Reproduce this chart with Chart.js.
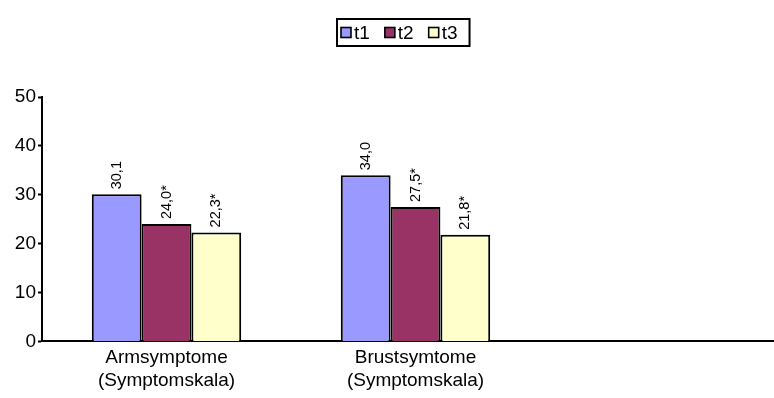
<!DOCTYPE html>
<html><head><meta charset="utf-8">
<script src="https://cdn.jsdelivr.net/npm/chart.js@4/dist/chart.umd.min.js"></script>
<style>html,body{margin:0;padding:0;background:#fff;overflow:hidden}#wrap{width:800px;height:398px}</style>
</head><body><div id="wrap"><canvas id="c" width="800" height="398"></canvas></div>
<script>
const categories = [["Armsymptome","(Symptomskala)"],["Brustsymtome","(Symptomskala)"],""];
const seriesNames = ["t1","t2","t3"];
const t1 = [30.1, 34.0, null];
const t2 = [24.0, 27.5, null];
const t3 = [22.3, 21.8, null];
const t1Labels = ["30,1","34,0",""];
const t2Labels = ["24,0*","27,5*",""];
const t3Labels = ["22,3*","21,8*",""];
const yTicks = [0,10,20,30,40,50];

const colors = ["#9999FF","#993366","#FFFFCC"];
const labelSets = [t1Labels,t2Labels,t3Labels];
const FONT = 'Arial, "Liberation Sans", sans-serif';

const boxedLegend = {
  id:'boxedLegend',
  afterDraw(chart){
    const ctx = chart.ctx; ctx.save();
    ctx.font = '19px ' + FONT; ctx.textBaseline='middle'; ctx.textAlign='left';
    const sq = 10, gapTxt = 3, gapItem = 15, padL = 4, padR = 12;
    const items = chart.data.datasets.map(ds=>({t:ds.label, c:ds.backgroundColor, w:ctx.measureText(ds.label).width}));
    let total = padL + padR;
    items.forEach((it,i)=>{ total += sq + gapTxt + it.w + (i<items.length-1?gapItem:0); });
    const x0 = 337, y0 = 19, h = 27, cy = y0 + h/2;
    ctx.lineWidth = 2; ctx.strokeStyle = '#000';
    ctx.strokeRect(x0, y0, total, h);
    let x = x0 + padL;
    items.forEach(it=>{
      ctx.fillStyle = it.c; ctx.fillRect(x, cy - sq/2, sq, sq);
      ctx.lineWidth = 1.6; ctx.strokeRect(x, cy - sq/2, sq, sq);
      x += sq + gapTxt;
      ctx.fillStyle = '#000'; ctx.fillText(it.t, x, cy + 1);
      x += it.w + gapItem;
    });
    ctx.restore();
  }
};
const valueLabels = {
  id:'valueLabels',
  afterDatasetsDraw(chart){
    const ctx = chart.ctx; ctx.save();
    ctx.font = '14.5px ' + FONT; ctx.fillStyle='#000';
    ctx.textAlign='left'; ctx.textBaseline='middle';
    chart.data.datasets.forEach((ds,di)=>{
      chart.getDatasetMeta(di).data.forEach((bar,i)=>{
        const txt = labelSets[di][i]; if(!txt) return;
        ctx.save(); ctx.translate(bar.x, bar.y - 5); ctx.rotate(-Math.PI/2);
        ctx.fillText(txt, 0, 0); ctx.restore();
      });
    });
    ctx.restore();
  }
};

new Chart(document.getElementById('c'), {
  type:'bar',
  data:{
    labels: categories,
    datasets:[
      {label:seriesNames[0], data:t1, backgroundColor:colors[0], borderColor:'#000', borderWidth:2, borderSkipped:'bottom'},
      {label:seriesNames[1], data:t2, backgroundColor:colors[1], borderColor:'#000', borderWidth:2, borderSkipped:'bottom'},
      {label:seriesNames[2], data:t3, backgroundColor:colors[2], borderColor:'#000', borderWidth:2, borderSkipped:'bottom'}
    ]
  },
  plugins:[boxedLegend, valueLabels],
  options:{
    responsive:false, animation:false,
    layout:{padding:{left:0,right:11,top:97,bottom:1}},
    datasets:{bar:{categoryPercentage:0.6, barPercentage:1}},
    plugins:{ tooltip:{enabled:false}, legend:{display:false} },
    scales:{
      x:{
        grid:{display:false, drawTicks:false},
        border:{display:true, color:'#000', width:2},
        ticks:{color:'#000', padding:5, maxRotation:0, autoSkip:false,
          font:{family:FONT, size:19, lineHeight:1.2}}
      },
      y:{
        min:0, max:50,
        afterBuildTicks(axis){ axis.ticks = yTicks.map(v=>({value:v})); },
        afterFit(axis){ axis.width = 42; },
        grid:{drawOnChartArea:false, drawTicks:true, tickLength:4, tickColor:'#000', tickWidth:2},
        border:{display:true, color:'#000', width:2},
        ticks:{color:'#000', padding:2, font:{family:FONT, size:19}}
      }
    }
  }
});
</script></body></html>
